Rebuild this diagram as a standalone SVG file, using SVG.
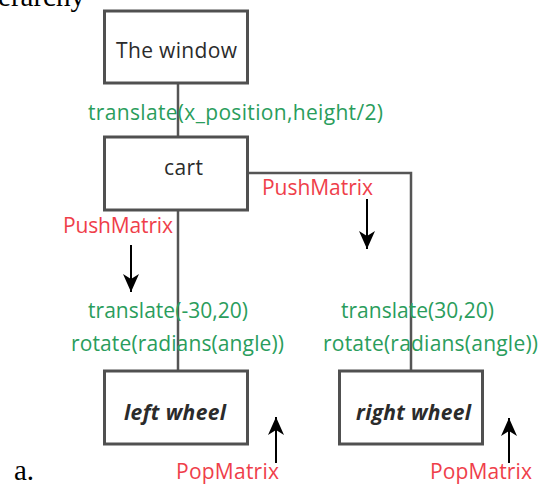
<svg xmlns="http://www.w3.org/2000/svg" width="540" height="486" viewBox="0 0 540 486">
<style>
.box{fill:#fff;stroke:#505050;stroke-width:3}
.conn{fill:none;stroke:#555;stroke-width:2.5}
.lbl{font-family:"Open Sans","DejaVu Sans",sans-serif;font-size:21px;fill:#2b2b2b}
.bi{font-style:italic;font-weight:bold}
.g{font-family:"Open Sans","DejaVu Sans",sans-serif;font-size:21px;fill:#2a9d5c}
.r{font-family:"Open Sans","DejaVu Sans",sans-serif;font-size:21px;fill:#ef3e4a}
.serif{font-family:"Liberation Serif","Times New Roman",serif;font-size:29px;fill:#000}
.arr{stroke:#000;stroke-width:2;fill:none;marker-end:url(#ah)}
</style>
<defs>
<marker id="ah" viewBox="0 0 18 16" refX="18" refY="8" markerWidth="18" markerHeight="16" markerUnits="userSpaceOnUse" orient="auto">
<path d="M0,0 L18,8 L0,16 L5,8 z" fill="#000"/>
</marker>
</defs>
<rect width="540" height="486" fill="#fff"/>
<text class="serif" x="85" y="6" text-anchor="end">hierarchy</text>
<text class="serif" x="14" y="480">a.</text>
<g id="connectors">
<line class="conn" x1="178" y1="83" x2="178" y2="137"/>
<line class="conn" x1="178" y1="210" x2="178" y2="371"/>
<polyline class="conn" points="248,173 411,173 411,371"/>
</g>
<g id="window">
<rect class="box" x="104.5" y="11" width="143" height="72"/>
<text class="lbl" x="116" y="58" textLength="121">The window</text>
</g>
<g id="cart">
<rect class="box" x="104.5" y="137" width="143" height="73"/>
<text class="lbl" x="164" y="175" textLength="39">cart</text>
</g>
<g id="left-wheel">
<rect class="box" x="104.5" y="371" width="143" height="73"/>
<text class="lbl bi" x="124" y="420" textLength="102">left wheel</text>
</g>
<g id="right-wheel">
<rect class="box" x="339.5" y="371" width="143" height="73"/>
<text class="lbl bi" x="356" y="420" textLength="115">right wheel</text>
</g>
<g id="labels">
<text class="g" x="88" y="120" textLength="295">translate(x_position,height/2)</text>
<text class="r" x="262" y="195" textLength="111">PushMatrix</text>
<text class="r" x="63" y="233" textLength="110">PushMatrix</text>
<text class="g" x="88" y="318" textLength="160">translate(-30,20)</text>
<text class="g" x="71" y="351" textLength="213">rotate(radians(angle))</text>
<text class="g" x="341" y="318" textLength="153">translate(30,20)</text>
<text class="g" x="323" y="351" textLength="215">rotate(radians(angle))</text>
<text class="r" x="176" y="479" textLength="103">PopMatrix</text>
<text class="r" x="430" y="479" textLength="102">PopMatrix</text>
</g>
<g id="arrows">
<line class="arr" x1="131" y1="245" x2="131" y2="292"/>
<line class="arr" x1="367" y1="199" x2="367" y2="249"/>
<line class="arr" x1="276" y1="463" x2="276" y2="417"/>
<line class="arr" x1="509" y1="463" x2="509" y2="418"/>
</g>
</svg>
